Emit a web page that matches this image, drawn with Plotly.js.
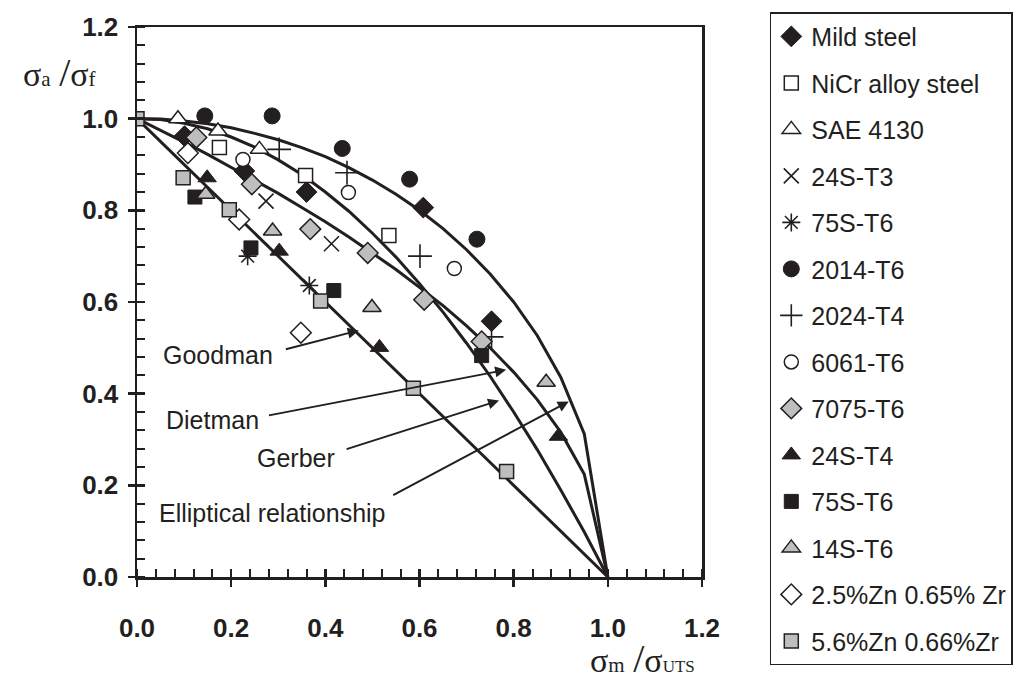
<!DOCTYPE html>
<html>
<head>
<meta charset="utf-8">
<script src="https://cdn.plot.ly/plotly-3.0.1.min.js"></script>
<style>html,body{margin:0;padding:0;background:#fff;}#chart{width:1025px;height:679px;}</style>
</head>
<body>
<div id="chart"></div>
<script>
// Theoretical curves
const curveX = [0, 0.05, 0.10, 0.15, 0.20, 0.25, 0.30, 0.35, 0.40, 0.45, 0.50, 0.55, 0.60, 0.65, 0.70, 0.75, 0.80, 0.85, 0.90, 0.95, 1.00];
const ellipticalY = [1.000, 0.999, 0.995, 0.989, 0.980, 0.968, 0.954, 0.937, 0.917, 0.893, 0.866, 0.835, 0.800, 0.760, 0.714, 0.661, 0.600, 0.527, 0.436, 0.312, 0.000];
const gerberY = [1.000, 0.998, 0.990, 0.978, 0.960, 0.938, 0.910, 0.878, 0.840, 0.798, 0.750, 0.698, 0.640, 0.578, 0.510, 0.438, 0.360, 0.278, 0.190, 0.098, 0.000];
const dietmanY = [1.000, 0.975, 0.949, 0.922, 0.894, 0.866, 0.837, 0.806, 0.775, 0.742, 0.707, 0.671, 0.632, 0.592, 0.548, 0.500, 0.447, 0.387, 0.316, 0.224, 0.000];
const goodmanX = [0, 1];
const goodmanY = [1, 0];

// Experimental series
const seriesNames = ["Mild steel", "NiCr alloy steel", "SAE 4130", "24S-T3", "75S-T6", "2014-T6", "2024-T4", "6061-T6", "7075-T6", "24S-T4", "75S-T6", "14S-T6", "2.5%Zn 0.65% Zr", "5.6%Zn 0.66%Zr"];
const mildSteelX = [0.101, 0.228, 0.360, 0.608, 0.753];
const mildSteelY = [0.962, 0.886, 0.840, 0.806, 0.558];
const nicrX = [0.175, 0.358, 0.535];
const nicrY = [0.937, 0.876, 0.745];
const sae4130X = [0.087, 0.172, 0.260];
const sae4130Y = [1.000, 0.973, 0.933];
const s24T3X = [0.274, 0.413];
const s24T3Y = [0.820, 0.727];
const s75T6aX = [0.235, 0.366];
const s75T6aY = [0.700, 0.636];
const a2014X = [0.144, 0.287, 0.436, 0.579, 0.722];
const a2014Y = [1.006, 1.006, 0.935, 0.868, 0.737];
const a2024X = [0.302, 0.446, 0.601, 0.753];
const a2024Y = [0.933, 0.882, 0.700, 0.524];
const a6061X = [0.225, 0.449, 0.674];
const a6061Y = [0.911, 0.839, 0.673];
const a7075X = [0.126, 0.244, 0.368, 0.490, 0.610, 0.732];
const a7075Y = [0.959, 0.857, 0.759, 0.707, 0.605, 0.514];
const s24T4X = [0.149, 0.302, 0.515, 0.895];
const s24T4Y = [0.871, 0.711, 0.501, 0.307];
const s75T6bX = [0.123, 0.242, 0.418, 0.732];
const s75T6bY = [0.829, 0.718, 0.625, 0.483];
const s14T6X = [0.146, 0.288, 0.499, 0.869];
const s14T6Y = [0.835, 0.755, 0.588, 0.425];
const zn25X = [0.108, 0.217, 0.348];
const zn25Y = [0.925, 0.780, 0.533];
const zn56X = [0.000, 0.098, 0.196, 0.390, 0.587, 0.785];
const zn56Y = [1.000, 0.871, 0.801, 0.602, 0.412, 0.230];

const xTickVals = [0, 0.2, 0.4, 0.6, 0.8, 1.0, 1.2];
const yTickVals = [0, 0.2, 0.4, 0.6, 0.8, 1.0, 1.2];

// Curve labels and arrow positions (data coords)
const labelTexts = ["Goodman", "Dietman", "Gerber", "Elliptical relationship"];
const labelX = [0.173, 0.161, 0.338, 0.287];
const labelY = [0.485, 0.343, 0.260, 0.140];
const arrowTailX = [0.313, 0.277, 0.442, 0.541];
const arrowTailY = [0.496, 0.352, 0.278, 0.177];
const arrowHeadX = [0.471, 0.784, 0.769, 0.917];
const arrowHeadY = [0.538, 0.452, 0.385, 0.383];

const yTitle = "σ<span style='font-size:21px'>a</span> <span style='font-size:40px'>/</span>σ<span style='font-size:21px'>f</span>";
const xTitle = "σ<span style='font-size:21px'>m</span> <span style='font-size:40px'>/</span>σ<span style='font-size:17px'>UTS</span>";

const INK = "#231f20";
const GRAY = "#bdbec0";

function curve(x, y) {
  return {x: x, y: y, type: "scatter", mode: "lines", line: {color: INK, width: 3}, showlegend: false, hoverinfo: "skip"};
}
function pts(i, x, y, symbol, fill, size, lw) {
  return {x: x, y: y, type: "scatter", mode: "markers", name: seriesNames[i], legendgroup: "g" + i,
    marker: {symbol: symbol, color: fill, size: size, line: {color: INK, width: lw}}};
}

const traces = [
  curve(goodmanX, goodmanY),
  curve(curveX, dietmanY),
  curve(curveX, gerberY),
  curve(curveX, ellipticalY),
  pts(0, mildSteelX, mildSteelY, "diamond", INK, 16, 1),
  pts(1, nicrX, nicrY, "square", "#ffffff", 14, 1.5),
  pts(2, sae4130X, sae4130Y, "triangle-up", "#ffffff", 16, 1.5),
  pts(3, s24T3X, s24T3Y, "x-thin-open", INK, 15, 1.6),
  pts(4, s75T6aX, s75T6aY, "asterisk-open", INK, 15, 1.6),
  pts(5, a2014X, a2014Y, "circle", INK, 16, 1),
  pts(6, a2024X, a2024Y, "cross-thin-open", INK, 17, 1.6),
  pts(7, a6061X, a6061Y, "circle", "#ffffff", 14, 1.5),
  pts(8, a7075X, a7075Y, "diamond", GRAY, 16, 1.5),
  pts(9, s24T4X, s24T4Y, "triangle-up", INK, 16, 1),
  pts(10, s75T6bX, s75T6bY, "square", INK, 14, 1),
  pts(11, s14T6X, s14T6Y, "triangle-up", GRAY, 16, 1.5),
  pts(12, zn25X, zn25Y, "diamond", "#ffffff", 16, 1.5),
  pts(13, zn56X, zn56Y, "square", GRAY, 14, 1.5),
  {x: [null], y: [null], xaxis: "x2", yaxis: "y2", type: "scatter", mode: "markers", showlegend: false, hoverinfo: "skip"}
];

const annotations = [];
for (let i = 0; i < labelTexts.length; i++) {
  annotations.push({x: labelX[i], y: labelY[i], xref: "x", yref: "y", text: labelTexts[i], showarrow: false,
    xanchor: "center", yanchor: "middle",
    font: {family: "Liberation Sans, Arial, sans-serif", size: 25, color: INK}});
  annotations.push({x: arrowHeadX[i], y: arrowHeadY[i], xref: "x", yref: "y", ax: arrowTailX[i], ay: arrowTailY[i],
    axref: "x", ayref: "y", text: "", showarrow: true, arrowhead: 2, arrowsize: 1.1, arrowwidth: 2, arrowcolor: INK});
}
annotations.push({xref: "paper", yref: "paper", x: -0.1376, y: 0.918, xanchor: "center", yanchor: "middle",
  text: yTitle, showarrow: false,
  font: {family: "Liberation Serif, Times New Roman, serif", size: 34, color: INK}});
annotations.push({xref: "paper", yref: "paper", x: 0.894, y: -0.148, xanchor: "center", yanchor: "middle",
  text: xTitle, showarrow: false,
  font: {family: "Liberation Serif, Times New Roman, serif", size: 34, color: INK}});

const tickFont = {family: "Liberation Sans, Arial, sans-serif", size: 26, color: INK, weight: 700};

const layout = {
  width: 1025, height: 679,
  margin: {l: 137, r: 321, t: 27, b: 102, pad: 0},
  paper_bgcolor: "#ffffff", plot_bgcolor: "#ffffff",
  showlegend: true,
  xaxis: {range: [0, 1.2], tickvals: xTickVals, tickformat: ".1f", showgrid: false, zeroline: false,
    showline: true, linecolor: INK, linewidth: 2.5, mirror: true,
    ticks: "outside", ticklen: 7, tickwidth: 2.5, tickcolor: INK, tickfont: tickFont, ticklabelstandoff: 19,
    minor: {dtick: 0.04, tick0: 0, ticks: "inside", ticklen: 8, tickwidth: 2, tickcolor: INK, showgrid: false}},
  yaxis: {range: [0, 1.2], tickvals: yTickVals, tickformat: ".1f", showgrid: false, zeroline: false,
    showline: true, linecolor: INK, linewidth: 2.5, mirror: true,
    ticks: "outside", ticklen: 7, tickwidth: 2.5, tickcolor: INK, tickfont: tickFont, ticklabelstandoff: 4,
    minor: {dtick: 0.04, tick0: 0, ticks: "inside", ticklen: 8, tickwidth: 2, tickcolor: INK, showgrid: false}},
  xaxis2: {overlaying: "x", range: [0, 1.2], tickvals: xTickVals, showticklabels: false, showgrid: false, zeroline: false,
    showline: false, ticks: "inside", ticklen: 8, tickwidth: 2.5, tickcolor: INK, side: "bottom"},
  yaxis2: {overlaying: "y", range: [0, 1.2], tickvals: yTickVals, showticklabels: false, showgrid: false, zeroline: false,
    showline: false, ticks: "inside", ticklen: 8, tickwidth: 2.5, tickcolor: INK, side: "left"},
  legend: {x: 1.12, y: 1.027, xanchor: "left", yanchor: "top", bgcolor: "#ffffff", maxheight: 679,
    bordercolor: INK, borderwidth: 1.5, traceorder: "grouped", tracegroupgap: 11,
    entrywidth: 205, entrywidthmode: "pixels",
    font: {family: "Liberation Sans, Arial, sans-serif", size: 25, color: INK}},
  annotations: annotations
};

Plotly.newPlot("chart", traces, layout, {displayModeBar: false, staticPlot: true});
</script>
</body>
</html>
